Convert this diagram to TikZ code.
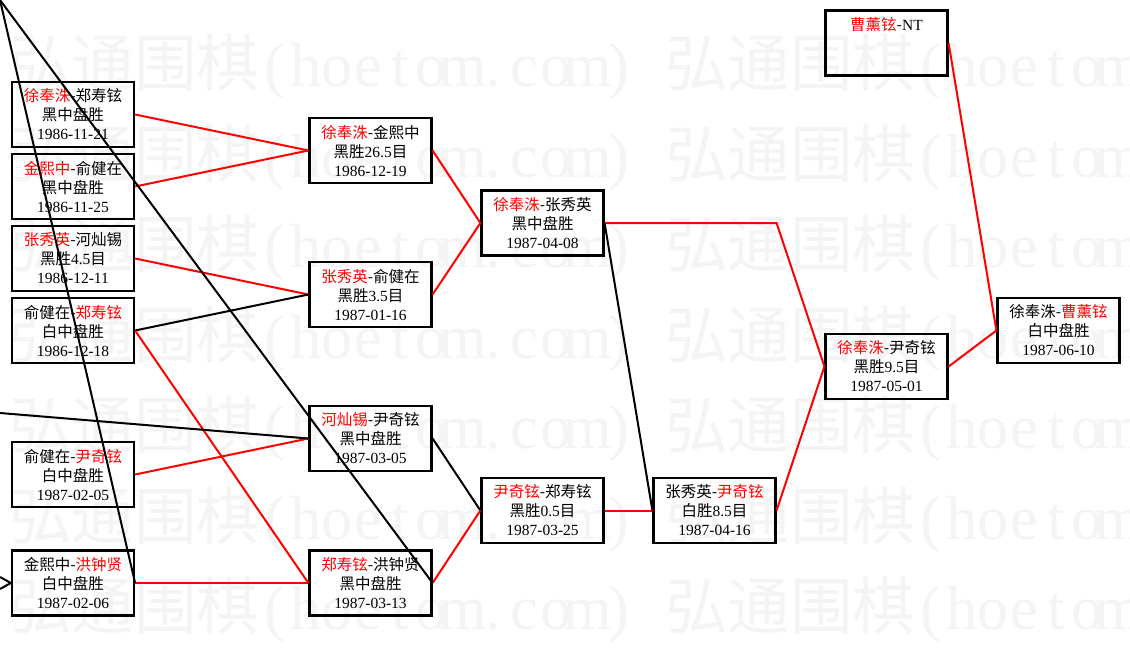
\documentclass[tikz,border=0pt]{standalone}
\usepackage{fontspec}
\setmainfont{Noto Sans CJK SC}
\newfontfamily\latfont{Liberation Serif}
\definecolor{wmgray}{gray}{0.955}
\definecolor{winred}{RGB}{255,0,0}
\newcommand\R[1]{\textcolor{winred}{#1}}
\newcommand\N[1]{{\latfont #1}}
\newcommand\hw[1]{\makebox[0.5em][c]{\latfont #1}}
\newcommand\wmstr{弘通围棋\hw{(}\hw{h}\hw{o}\hw{e}\hw{t}\hw{o}\hw{m}\hw{.}\hw{c}\hw{o}\hw{m}\hw{)}}
\tikzset{
  game/.style={draw=black, line width=2.2pt, rectangle, minimum width=122pt,
    minimum height=65pt, inner sep=0pt, align=center, text=black,
    font=\fontsize{15.5}{19}\selectfont},
  win/.style={draw=winred, line width=2pt},
  lose/.style={draw=black, line width=2pt},
  wmark/.style={anchor=west, inner sep=0pt, text=wmgray,
    font=\fontsize{62.5}{62.5}\selectfont}
}
\begin{document}
\begin{tikzpicture}[x=1pt,y=-1pt]
\useasboundingbox (0,0) rectangle (1130,661);
\clip (0,0) rectangle (1130,661);
\fill[white] (0,0) rectangle (1130,661);
% watermark
\foreach \r/\yy in {1/67,2/157.5,3/248,4/338.5,5/429,6/519.5,7/610}{
  \node[wmark] (wm\r a) at (9,\yy) {\wmstr};
  \node[wmark] (wm\r b) at (665,\yy) {\wmstr};
}
% round 1
\node[game] (B1) at (73,114.5) {\R{徐奉洙}-郑寿铉\\黑中盘胜\\\N{1986-11-21}};
\node[game] (B2) at (73,186.5) {\R{金熙中}-俞健在\\黑中盘胜\\\N{1986-11-25}};
\node[game] (B3) at (73,258.5) {\R{张秀英}-河灿锡\\黑胜\N{4.5}目\\\N{1986-12-11}};
\node[game] (B4) at (73,330.5) {俞健在-\R{郑寿铉}\\白中盘胜\\\N{1986-12-18}};
\node[game] (B5) at (73,474.5) {俞健在-\R{尹奇铉}\\白中盘胜\\\N{1987-02-05}};
\node[game] (B6) at (73,583) {金熙中-\R{洪钟贤}\\白中盘胜\\\N{1987-02-06}};
% round 2
\node[game] (C1) at (370.5,150.5) {\R{徐奉洙}-金熙中\\黑胜\N{26.5}目\\\N{1986-12-19}};
\node[game] (C2) at (370.5,294.5) {\R{张秀英}-俞健在\\黑胜\N{3.5}目\\\N{1987-01-16}};
\node[game] (C3) at (370.5,438.5) {\R{河灿锡}-尹奇铉\\黑中盘胜\\\N{1987-03-05}};
\node[game] (C4) at (370.5,583) {\R{郑寿铉}-洪钟贤\\黑中盘胜\\\N{1987-03-13}};
% round 3
\node[game] (D1) at (542.5,223) {\R{徐奉洙}-张秀英\\黑中盘胜\\\N{1987-04-08}};
\node[game] (D2) at (542.5,510.5) {\R{尹奇铉}-郑寿铉\\黑胜\N{0.5}目\\\N{1987-03-25}};
\node[game] (E1) at (714.5,510.5) {张秀英-\R{尹奇铉}\\白胜\N{8.5}目\\\N{1987-04-16}};
\node[game] (F1) at (886.5,366.5) {\R{徐奉洙}-尹奇铉\\黑胜\N{9.5}目\\\N{1987-05-01}};
\node[game] (G)  at (886.5,43) {\R{曹薰铉}-\N{NT}\\\mbox{}\\\mbox{}};
\node[game] (H)  at (1058.5,330.5) {徐奉洙-\R{曹薰铉}\\白中盘胜\\\N{1987-06-10}};
% free ends
\coordinate (tl) at (0,0);
\coordinate (lf) at (0,413);
\coordinate (la) at (0,577);
\coordinate (lb) at (0,589);
% connectors
\draw[win] (B1.east) -- (C1.west);
\draw[win] (B2.east) -- (C1.west);
\draw[win] (B3.east) -- (C2.west);
\draw[lose] (B4.east) -- (C2.west);
\draw[win] (B4.east) -- (C4.west);
\draw[win] (B5.east) -- (C3.west);
\draw[win] (B6.east) -- (C4.west);
\draw[win] (C1.east) -- (D1.west);
\draw[win] (C2.east) -- (D1.west);
\draw[lose] (C3.east) -- (D2.west);
\draw[win] (C4.east) -- (D2.west);
\draw[win] (D1.east) -- (E1.east |- D1.east) -- (F1.west);
\draw[lose] (D1.east) -- (E1.west);
\draw[win] (D2.east) -- (E1.west);
\draw[win] (E1.east) -- (F1.west);
\draw[win] (F1.east) -- (H.west);
\draw[win] (G.east) -- (H.west);
\draw[lose] (tl) -- (B6.east);
\draw[lose] (tl) -- (C4.east);
\draw[lose] (lf) -- (C3.west);
\draw[lose] (la) -- (B6.west);
\draw[lose] (lb) -- (B6.west);
\end{tikzpicture}
\end{document}
